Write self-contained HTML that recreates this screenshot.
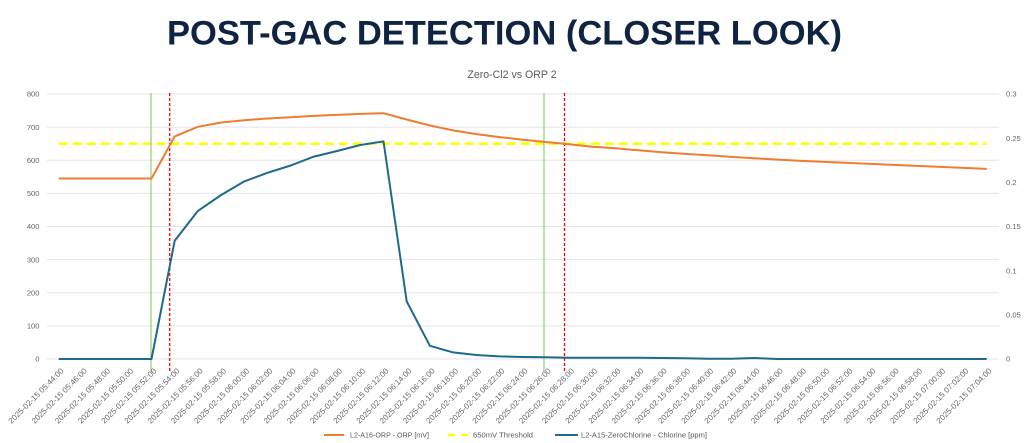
<!DOCTYPE html>
<html>
<head>
<meta charset="utf-8">
<style>
html,body{margin:0;padding:0;background:#fff;}
body{width:1024px;height:443px;overflow:hidden;}
svg{display:block;}
text{font-family:"Liberation Sans",Arial,sans-serif;}
</style>
</head>
<body>
<svg width="1024" height="443" viewBox="0 0 1024 443" xmlns="http://www.w3.org/2000/svg">
<rect width="1024" height="443" fill="#fff"/>
<text x="167" y="44.5" font-size="34.5" font-weight="bold" fill="#0e2442" textLength="675" lengthAdjust="spacingAndGlyphs">POST-GAC DETECTION (CLOSER LOOK)</text>
<text x="512" y="78" font-size="10.6" fill="#595959" text-anchor="middle">Zero-Cl2 vs ORP 2</text>

<!-- gridlines -->
<g stroke="#e4e4e4" stroke-width="1">
<line x1="47" y1="94" x2="999" y2="94"/>
<line x1="47" y1="127.1" x2="999" y2="127.1"/>
<line x1="47" y1="160.3" x2="999" y2="160.3"/>
<line x1="47" y1="193.4" x2="999" y2="193.4"/>
<line x1="47" y1="226.5" x2="999" y2="226.5"/>
<line x1="47" y1="259.6" x2="999" y2="259.6"/>
<line x1="47" y1="292.8" x2="999" y2="292.8"/>
<line x1="47" y1="325.9" x2="999" y2="325.9"/>
<line x1="47" y1="359" x2="999" y2="359"/>
</g>

<!-- left axis labels -->
<g font-size="7.6" fill="#666" text-anchor="end">
<text x="39.5" y="96.7">800</text>
<text x="39.5" y="129.8">700</text>
<text x="39.5" y="163">600</text>
<text x="39.5" y="196.1">500</text>
<text x="39.5" y="229.2">400</text>
<text x="39.5" y="262.3">300</text>
<text x="39.5" y="295.5">200</text>
<text x="39.5" y="328.6">100</text>
<text x="39.5" y="361.7">0</text>
</g>
<!-- right axis labels -->
<g font-size="7.6" fill="#666">
<text x="1006" y="96.7">0.3</text>
<text x="1006" y="140.9">0.25</text>
<text x="1006" y="185">0.2</text>
<text x="1006" y="229.2">0.15</text>
<text x="1006" y="273.4">0.1</text>
<text x="1006" y="317.5">0.05</text>
<text x="1006" y="361.7">0</text>
</g>

<!-- threshold -->
<line x1="58.7" y1="143.7" x2="986.7" y2="143.7" stroke="#ffff00" stroke-width="2.6" stroke-dasharray="9,5"/>

<!-- vertical markers -->
<line x1="151" y1="93" x2="151" y2="372" stroke="#8fd06a" stroke-width="1.2"/>
<line x1="544" y1="93" x2="544" y2="372" stroke="#8fd06a" stroke-width="1.2"/>
<line x1="169.7" y1="93" x2="169.7" y2="371" stroke="#ff0000" stroke-width="1.3" stroke-dasharray="3,2"/>
<line x1="564.5" y1="93" x2="564.5" y2="371" stroke="#ff0000" stroke-width="1.3" stroke-dasharray="3,2"/>

<!-- ORP series -->
<polyline fill="none" stroke="#ed7d31" stroke-width="2" stroke-linejoin="round" points="
58.7,178.5 81.9,178.5 105.1,178.5 128.3,178.5 151.5,178.5
174.7,136.4 197.9,126.8 221.1,122.5 244.3,120.2 267.5,118.5
290.7,117.2 313.9,115.9 337.1,114.9 360.3,113.9 383.5,113.2
406.7,119.5 429.9,125.5 453.1,130.4 476.3,134.1 499.5,137.1
522.7,139.7 545.9,142.0 569.1,144.3 592.3,146.7 615.5,148.3
638.7,150.3 661.9,152.3 685.1,153.9 708.3,155.3 731.5,156.9
754.7,158.3 777.9,159.6 801.1,160.9 824.3,161.9 847.5,162.9
870.7,163.9 893.9,164.9 917.1,165.9 940.3,166.9 963.5,167.9 986.7,168.9"/>

<!-- Chlorine series -->
<polyline fill="none" stroke="#1f6a8a" stroke-width="2" stroke-linejoin="round" points="
58.7,359 81.9,359 105.1,359 128.3,359 151.5,359
174.7,240.7 197.9,210.9 221.1,195.0 244.3,181.4 267.5,172.8
290.7,165.5 313.9,156.6 337.1,151.0 360.3,145.0 383.5,141.4
406.7,301.4 429.9,345.8 453.1,352.4 476.3,355.0 499.5,356.4
522.7,357.0 545.9,357.3 569.1,357.7 592.3,357.7 615.5,357.7
638.7,357.7 661.9,358.0 685.1,358.3 708.3,358.7 731.5,358.7
754.7,358.0 777.9,359 801.1,359 824.3,359 847.5,359
870.7,359 893.9,359 917.1,359 940.3,359 963.5,359 986.7,359"/>

<!-- x axis labels -->
<g font-size="8" fill="#666" text-anchor="end">
<text transform="translate(64.2,371.5) rotate(-45)">2025-02-15 05:44:00</text>
<text transform="translate(87.4,371.5) rotate(-45)">2025-02-15 05:46:00</text>
<text transform="translate(110.6,371.5) rotate(-45)">2025-02-15 05:48:00</text>
<text transform="translate(133.8,371.5) rotate(-45)">2025-02-15 05:50:00</text>
<text transform="translate(157,371.5) rotate(-45)">2025-02-15 05:52:00</text>
<text transform="translate(180.2,371.5) rotate(-45)">2025-02-15 05:54:00</text>
<text transform="translate(203.4,371.5) rotate(-45)">2025-02-15 05:56:00</text>
<text transform="translate(226.6,371.5) rotate(-45)">2025-02-15 05:58:00</text>
<text transform="translate(249.8,371.5) rotate(-45)">2025-02-15 06:00:00</text>
<text transform="translate(273,371.5) rotate(-45)">2025-02-15 06:02:00</text>
<text transform="translate(296.2,371.5) rotate(-45)">2025-02-15 06:04:00</text>
<text transform="translate(319.4,371.5) rotate(-45)">2025-02-15 06:06:00</text>
<text transform="translate(342.6,371.5) rotate(-45)">2025-02-15 06:08:00</text>
<text transform="translate(365.8,371.5) rotate(-45)">2025-02-15 06:10:00</text>
<text transform="translate(389,371.5) rotate(-45)">2025-02-15 06:12:00</text>
<text transform="translate(412.2,371.5) rotate(-45)">2025-02-15 06:14:00</text>
<text transform="translate(435.4,371.5) rotate(-45)">2025-02-15 06:16:00</text>
<text transform="translate(458.6,371.5) rotate(-45)">2025-02-15 06:18:00</text>
<text transform="translate(481.8,371.5) rotate(-45)">2025-02-15 06:20:00</text>
<text transform="translate(505,371.5) rotate(-45)">2025-02-15 06:22:00</text>
<text transform="translate(528.2,371.5) rotate(-45)">2025-02-15 06:24:00</text>
<text transform="translate(551.4,371.5) rotate(-45)">2025-02-15 06:26:00</text>
<text transform="translate(574.6,371.5) rotate(-45)">2025-02-15 06:28:00</text>
<text transform="translate(597.8,371.5) rotate(-45)">2025-02-15 06:30:00</text>
<text transform="translate(621,371.5) rotate(-45)">2025-02-15 06:32:00</text>
<text transform="translate(644.2,371.5) rotate(-45)">2025-02-15 06:34:00</text>
<text transform="translate(667.4,371.5) rotate(-45)">2025-02-15 06:36:00</text>
<text transform="translate(690.6,371.5) rotate(-45)">2025-02-15 06:38:00</text>
<text transform="translate(713.8,371.5) rotate(-45)">2025-02-15 06:40:00</text>
<text transform="translate(737,371.5) rotate(-45)">2025-02-15 06:42:00</text>
<text transform="translate(760.2,371.5) rotate(-45)">2025-02-15 06:44:00</text>
<text transform="translate(783.4,371.5) rotate(-45)">2025-02-15 06:46:00</text>
<text transform="translate(806.6,371.5) rotate(-45)">2025-02-15 06:48:00</text>
<text transform="translate(829.8,371.5) rotate(-45)">2025-02-15 06:50:00</text>
<text transform="translate(853,371.5) rotate(-45)">2025-02-15 06:52:00</text>
<text transform="translate(876.2,371.5) rotate(-45)">2025-02-15 06:54:00</text>
<text transform="translate(899.4,371.5) rotate(-45)">2025-02-15 06:56:00</text>
<text transform="translate(922.6,371.5) rotate(-45)">2025-02-15 06:58:00</text>
<text transform="translate(945.8,371.5) rotate(-45)">2025-02-15 07:00:00</text>
<text transform="translate(969,371.5) rotate(-45)">2025-02-15 07:02:00</text>
<text transform="translate(992.2,371.5) rotate(-45)">2025-02-15 07:04:00</text>
</g>

<!-- legend -->
<line x1="324" y1="435" x2="344" y2="435" stroke="#ed7d31" stroke-width="2"/>
<text x="350" y="437.7" font-size="7.5" fill="#595959" textLength="79" lengthAdjust="spacingAndGlyphs">L2-A16-ORP - ORP [mV]</text>
<line x1="448" y1="435" x2="468" y2="435" stroke="#ffff00" stroke-width="2.4" stroke-dasharray="7,6"/>
<text x="473" y="437.7" font-size="7.5" fill="#595959" textLength="60" lengthAdjust="spacingAndGlyphs">650mV Threshold</text>
<line x1="555" y1="435" x2="578" y2="435" stroke="#1f6a8a" stroke-width="2"/>
<text x="581" y="437.7" font-size="7.5" fill="#595959" textLength="126" lengthAdjust="spacingAndGlyphs">L2-A15-ZeroChlorine - Chlorine [ppm]</text>
</svg>
</body>
</html>
